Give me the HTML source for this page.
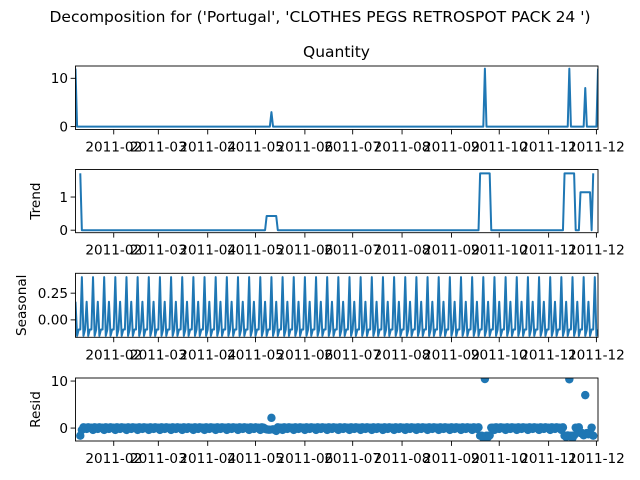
<!DOCTYPE html>
<html><head><meta charset="utf-8"><style>
body{margin:0;background:#fff;}
svg{display:block;font-family:"DejaVu Sans","Liberation Sans",sans-serif;}
</style></head><body>
<svg id="fig" width="640" height="480" viewBox="0 0 640 480">
<text x="320" y="22" font-size="15.5" text-anchor="middle" fill="#000">Decomposition for ('Portugal', 'CLOTHES PEGS RETROSPOT PACK 24 ')</text>
<text x="336.5" y="57" font-size="15.5" text-anchor="middle" fill="#000">Quantity</text>
</svg>
<script>
// ---- data ----
const nDays = 329;                 // daily points from 2011-01-08
const spikeIndex = [0, 123, 257, 310, 320, 328];
const spikeValue = [12, 3, 12, 12, 8, 12];
const seasonalPattern = [0.17, -0.15, -0.09, -0.09, 0.40, -0.15, -0.09];
const tickLabels = ["2011-02","2011-03","2011-04","2011-05","2011-06","2011-07","2011-08","2011-09","2011-10","2011-11","2011-12"];
const tickDayOffsets = [24, 52, 83, 113, 144, 174, 205, 236, 266, 297, 327];
const quantityTicks = [0, 10];
const trendTicks = [0, 1];
const seasonalTicks = [0, 0.25];
const seasonalTickText = ["0.00", "0.25"];
const residTicks = [0, 10];

// ---- derived series ----
const observed = new Array(nDays).fill(0);
spikeIndex.forEach((d,i)=>{observed[d]=spikeValue[i];});
const period = seasonalPattern.length, half = Math.floor(period/2);
const trend = observed.map((v,i)=>{
  if(i<half||i>=nDays-half) return null;
  let s=0; for(let k=i-half;k<=i+half;k++) s+=observed[k]; return s/period;
});
const seasonal = observed.map((v,i)=>seasonalPattern[i%period]);
const resid = observed.map((v,i)=>trend[i]===null?null:v-trend[i]-seasonal[i]);

// ---- layout ----
const NS="http://www.w3.org/2000/svg";
const svg=document.getElementById('fig');
const L=75.5, R=598;
const xs=d=>L+(R-L)*d/(nDays-1);
function el(tag,attrs,parent){const e=document.createElementNS(NS,tag);for(const k in attrs)e.setAttribute(k,attrs[k]);(parent||svg).appendChild(e);return e;}

const panels=[
 {name:'quantity',top:66,bot:129.5,ymin:-0.6,ymax:12.55,data:observed,ticks:quantityTicks,tt:quantityTicks.map(String),label:null,kind:'line'},
 {name:'trend',top:169.5,bot:232.7,ymin:-0.0757,ymax:1.83,data:trend,ticks:trendTicks,tt:trendTicks.map(String),label:'Trend',kind:'line'},
 {name:'seasonal',top:273.3,bot:337.3,ymin:-0.163,ymax:0.436,data:seasonal,ticks:seasonalTicks,tt:seasonalTickText,label:'Seasonal',kind:'line'},
 {name:'resid',top:378,bot:441,ymin:-2.75,ymax:10.65,data:resid,ticks:residTicks,tt:residTicks.map(String),label:'Resid',kind:'scatter'}
];

panels.forEach((p,pi)=>{
  const ys=v=>p.bot-(v-p.ymin)/(p.ymax-p.ymin)*(p.bot-p.top);
  const g=el('g',{});
  
  
  const cid='clip'+pi;
  const cp=el('clipPath',{id:cid},g); el('rect',{x:L,y:p.top,width:R-L,height:p.bot-p.top},cp);
  const dg=el('g',{'clip-path':'url(#'+cid+')'},g);
  if(p.kind==='line'){
    let d='',pen=false;
    p.data.forEach((v,i)=>{ if(v===null){pen=false;return;} d+=(pen?'L':'M')+xs(i).toFixed(2)+','+ys(v).toFixed(2); pen=true; });
    const path=el('path',{d:d,fill:'none',stroke:'#1f77b4','stroke-width':2,'stroke-linejoin':'round'},dg);
    
    
  } else {
    p.data.forEach((v,i)=>{ if(v===null)return;
      const c=el('circle',{cx:xs(i).toFixed(2),cy:ys(v).toFixed(2),r:4.2,fill:'#1f77b4'},dg);
      
      
    });
  }
  const fr=el('rect',{x:L,y:p.top,width:R-L,height:p.bot-p.top,fill:'none',stroke:'#000','stroke-width':0.9},g);
  
  
  p.ticks.forEach((t,i)=>{
    const y=ys(t);
    el('line',{x1:L-4.9,x2:L,y1:y,y2:y,stroke:'#000','stroke-width':0.9},g);
    const tx=el('text',{x:L-7.5,y:y+4.8,'font-size':13.6,'text-anchor':'end',fill:'#000'},g);
    tx.textContent=p.tt[i];
    
    
  });
  tickDayOffsets.forEach((d,i)=>{
    const x=xs(d);
    el('line',{x1:x,x2:x,y1:p.bot,y2:p.bot+4.9,stroke:'#000','stroke-width':0.9},g);
    const tx=el('text',{x:x,y:p.bot+22,'font-size':13.6,'text-anchor':'middle',fill:'#000'},g);
    tx.textContent=tickLabels[i];
    
    
  });
  if(p.label){
    const cy=(p.top+p.bot)/2;
    const lt=el('text',{x:0,y:0,'font-size':13.6,'text-anchor':'middle',fill:'#000',transform:'translate('+(p.name==='seasonal'?26:40)+','+cy+') rotate(-90)'},g);
    lt.textContent=p.label;
    
    
  }
});
</script>
</body></html>
